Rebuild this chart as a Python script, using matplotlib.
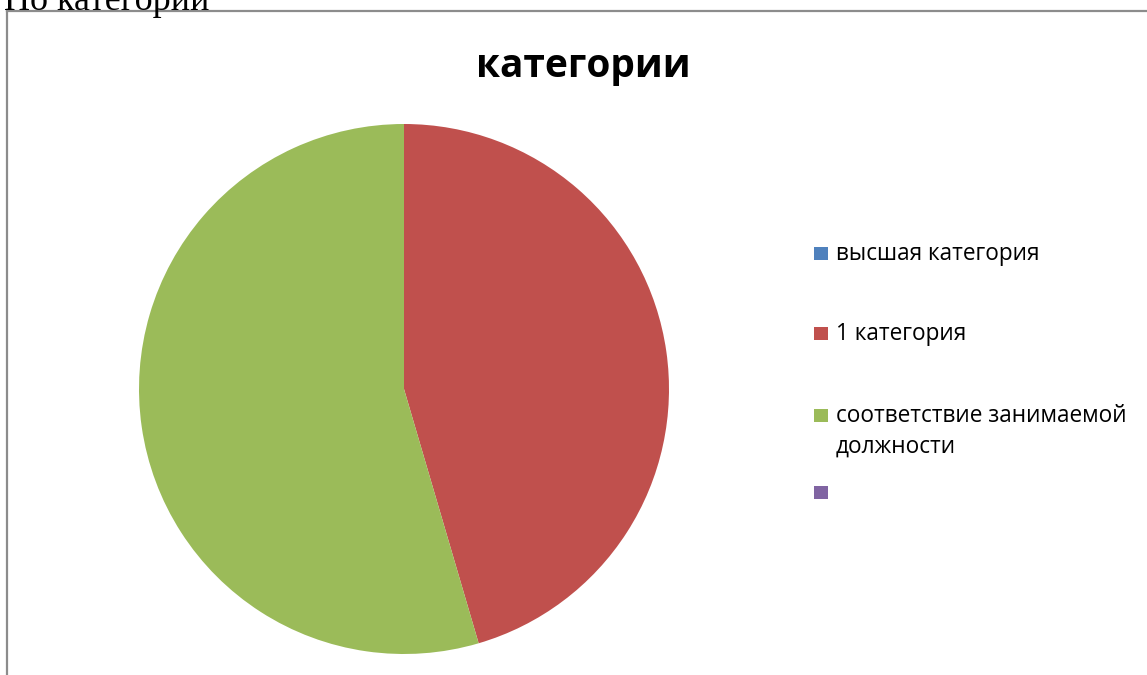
import matplotlib
matplotlib.use('Agg')
import matplotlib.pyplot as plt
from matplotlib.patches import Rectangle
from matplotlib.lines import Line2D

# Data
categories = ['высшая категория', '1 категория', 'соответствие занимаемой\nдолжности', '']
values = [0, 5, 6, 0]
colors = ['#4F81BD', '#C0504D', '#9BBB59', '#8064A2']

W, H = 1147, 675
fig = plt.figure(figsize=(W / 100, H / 100), dpi=100)
fig.patch.set_facecolor('white')


def fx(x):
    return x / W


def fy(y):
    return 1 - y / H


# page text above the chart frame (cut off at the top, like the source)
fig.text(fx(4), fy(10), 'По категории', fontsize=26, family='Liberation Serif',
         va='baseline', ha='left')

# chart frame (left and top edges visible)
fig.add_artist(Line2D([fx(7), fx(7)], [fy(11), fy(676)], color='#8c8c8c', lw=1.6,
                      transform=fig.transFigure))
fig.add_artist(Line2D([fx(7), fx(1148)], [fy(11), fy(11)], color='#8c8c8c', lw=1.6,
                      transform=fig.transFigure))

# title
fig.text(fx(583), fy(77), 'категории', fontsize=28, fontweight='bold',
         family='Open Sans', ha='center', va='baseline')

# pie
cx, cy, r = 404, 389, 265
ax = fig.add_axes([fx(cx - r), fy(cy + r), 2 * r / W, 2 * r / H])
ax.pie(values, colors=colors, startangle=90, counterclock=False,
       wedgeprops=dict(linewidth=0))
ax.set_xlim(-1, 1)
ax.set_ylim(-1, 1)
ax.set_aspect('auto')
ax.axis('off')

# legend
baselines = [260, 340, 422, 499]
for lab, col, b in zip(categories, colors, baselines):
    fig.add_artist(Rectangle((fx(814), fy(b)), 14 / W, 13 / H, facecolor=col,
                             edgecolor='none', transform=fig.transFigure))
    for i, line in enumerate(lab.split('\n')):
        if line:
            fig.text(fx(836), fy(b + 31 * i), line, fontsize=16.3, family='Open Sans',
                     ha='left', va='baseline')

fig.savefig('out.png', dpi=100)
